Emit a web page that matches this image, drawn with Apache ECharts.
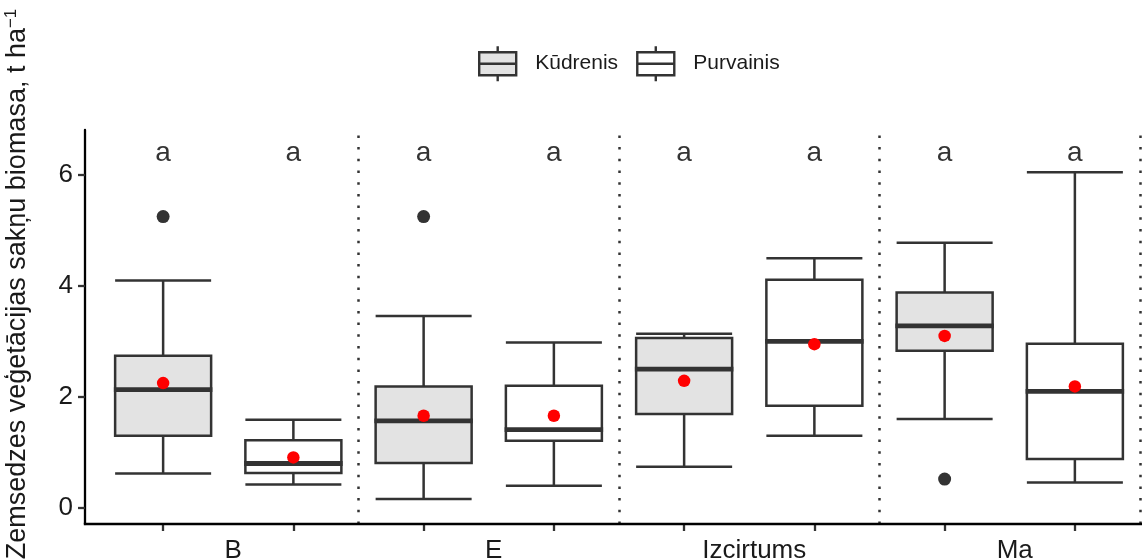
<!DOCTYPE html>
<html>
<head>
<meta charset="utf-8">
<script src="https://cdn.jsdelivr.net/npm/echarts@6/dist/echarts.min.js"></script>
<style>
html,body{margin:0;padding:0;background:#fff;}
#chart{width:1142px;height:560px;}
</style>
</head>
<body>
<div id="chart"></div>
<script>
// ---------- data ----------
const groups = ['B', 'E', 'Izcirtums', 'Ma'];
const treatments = ['Kūdrenis', 'Purvainis'];
// [lower whisker, Q1, median, Q3, upper whisker]
const kudrenisStats = [
  [0.62, 1.30, 2.13, 2.74, 4.10],
  [0.16, 0.81, 1.57, 2.19, 3.46],
  [0.74, 1.69, 2.50, 3.06, 3.14],
  [1.60, 2.83, 3.28, 3.88, 4.78]
];
const purvainisStats = [
  [0.42, 0.63, 0.80, 1.22, 1.59],
  [0.40, 1.21, 1.41, 2.20, 2.98],
  [1.30, 1.84, 3.00, 4.11, 4.50],
  [0.46, 0.88, 2.10, 2.96, 6.05]
];
const kudrenisMeans = [2.25, 1.66, 2.29, 3.10];
const purvainisMeans = [0.91, 1.66, 2.95, 2.19];
// [group index, value]
const kudrenisOutliers = [[0, 5.25], [1, 5.25], [3, 0.52]];
const purvainisOutliers = [];
const kudrenisLetters = ['a', 'a', 'a', 'a'];
const purvainisLetters = ['a', 'a', 'a', 'a'];
const letterY = 6.39;
const yTicks = [0, 2, 4, 6];
const separators = [1.5, 2.5, 3.5, 4.5];
const yRange = [-0.29, 6.81];

// ---------- styling ----------
const FONT = 'Liberation Sans, Arial, sans-serif';
const fills = ['#e3e3e3', '#ffffff'];
const stroke = '#333333';
const statsByT = [kudrenisStats, purvainisStats];
const meansByT = [kudrenisMeans, purvainisMeans];
const outByT = [kudrenisOutliers, purvainisOutliers];
const lettersByT = [kudrenisLetters, purvainisLetters];
const slots = [];
groups.forEach(g => treatments.forEach(t => slots.push(g + ' / ' + t)));
const slot = (g, t) => g * 2 + t;

const legendIcon = 'path://M0,6H37V29H0Z M0,17.5H37 M18.5,0V6 M18.5,29V35';

const series = [];
treatments.forEach((name, t) => {
  series.push({
    type: 'boxplot',
    name: name,
    xAxisIndex: t,
    yAxisIndex: 0,
    boxWidth: [96, 96],
    encode: { x: 0, y: [1, 2, 3, 4, 5] },
    data: statsByT[t].map((s, g) => [slot(g, t)].concat(s)),
    itemStyle: { color: fills[t], borderColor: stroke, borderWidth: 2.5 },
    emphasis: { disabled: true },
    silent: true,
    z: 2
  });
});
treatments.forEach((name, t) => {
  series.push({
    type: 'scatter', xAxisIndex: 0, silent: true, z: 3,
    symbol: 'rect', symbolSize: [98.5, 4.8],
    itemStyle: { color: stroke, opacity: 1 },
    data: statsByT[t].map((s, g) => [slot(g, t), s[2]])
  });
});
treatments.forEach((name, t) => {
  series.push({
    type: 'scatter', xAxisIndex: 0, silent: true, z: 4,
    symbol: 'circle', symbolSize: 13,
    itemStyle: { color: stroke, opacity: 1 },
    data: outByT[t].map(o => [slot(o[0], t), o[1]])
  });
  series.push({
    type: 'scatter', xAxisIndex: 0, silent: true, z: 5,
    symbol: 'circle', symbolSize: 12.5,
    itemStyle: { color: '#ff0000', opacity: 1 },
    data: meansByT[t].map((m, g) => [slot(g, t), m])
  });
  series.push({
    type: 'scatter', xAxisIndex: 0, silent: true, z: 5,
    symbol: 'circle', symbolSize: 0,
    itemStyle: { color: 'rgba(0,0,0,0)' },
    label: {
      show: true, position: 'inside', color: '#000', fontSize: 28, fontFamily: FONT,
      formatter: p => p.data[2]
    },
    data: lettersByT[t].map((l, g) => [slot(g, t), letterY, l])
  });
});
series.push({
  type: 'scatter', xAxisIndex: 3, silent: true, z: 1,
  data: [],
  markLine: {
    silent: true, symbol: 'none', label: { show: false },
    lineStyle: { type: [2.5, 9.2], width: 2.5, color: '#333333' },
    emphasis: { disabled: true },
    data: separators.map(x => ({ xAxis: x }))
  }
});

const option = {
  animation: false,
  backgroundColor: '#ffffff',
  textStyle: { fontFamily: FONT },
  grid: { left: 98, right: 2, top: 130, bottom: 36, containLabel: false, outerBoundsMode: 'none' },
  legend: {
    left: 478, top: 45, orient: 'horizontal', padding: 0,
    itemWidth: 37, itemHeight: 35, itemGap: 18,
    selectedMode: false,
    textStyle: { fontSize: 21, color: '#1a1a1a', fontFamily: FONT, padding: [0, 0, 0, 14] },
    data: treatments.map((n, t) => ({
      name: n, icon: legendIcon,
      itemStyle: { color: fills[t], borderColor: stroke, borderWidth: 2.4 }
    }))
  },
  xAxis: [
    {
      type: 'category', data: slots, boundaryGap: true, position: 'bottom',
      axisLine: { show: false, onZero: false },
      axisTick: { show: true, interval: 0, alignWithLabel: true, length: 7, lineStyle: { color: stroke, width: 2.3 } },
      axisLabel: { show: false, interval: 0 }, splitLine: { show: false }
    },
    { type: 'category', data: slots, boundaryGap: true, show: false, axisLine: { onZero: false } },
    {
      type: 'category', data: groups, boundaryGap: true, position: 'bottom',
      axisLine: { show: false, onZero: false }, axisTick: { show: false }, splitLine: { show: false },
      axisLabel: { show: true, fontSize: 26, color: '#1a1a1a', margin: 14, fontFamily: FONT, interval: 0, padding: [0, 0, 0, 10] }
    },
    { type: 'value', min: 0.5, max: 4.5, show: false, axisLine: { onZero: false } }
  ],
  yAxis: [{
    type: 'value', min: yRange[0], max: yRange[1], offset: 13,
    axisLine: { show: true, onZero: false, lineStyle: { color: '#000', width: 2.3 } },
    axisTick: { show: true, length: 7, lineStyle: { color: stroke, width: 2.3 }, customValues: yTicks },
    axisLabel: { show: true, customValues: yTicks, fontSize: 26, color: '#1a1a1a', margin: 12, fontFamily: FONT },
    splitLine: { show: false },
    name: 'Zemsedzes veģetācijas sakņu biomasa, t ha{sup|−1}',
    nameLocation: 'middle', nameGap: 52, nameRotate: 90,
    nameTextStyle: {
      fontSize: 27, color: '#1a1a1a', fontFamily: FONT, padding: [0, 0, 0, 86], lineHeight: 30,
      rich: { sup: { fontSize: 17, verticalAlign: 'top', lineHeight: 17, color: '#1a1a1a', fontFamily: FONT } }
    }
  }],
  graphic: [{
    type: 'line', z: 100, silent: true,
    shape: { x1: 83.8, y1: 524, x2: 1142, y2: 524 },
    style: { stroke: '#000', lineWidth: 2.3 }
  }],
  series: series
};

const chart = echarts.init(document.getElementById('chart'), null, { renderer: 'canvas' });
chart.setOption(option);
</script>
</body>
</html>
